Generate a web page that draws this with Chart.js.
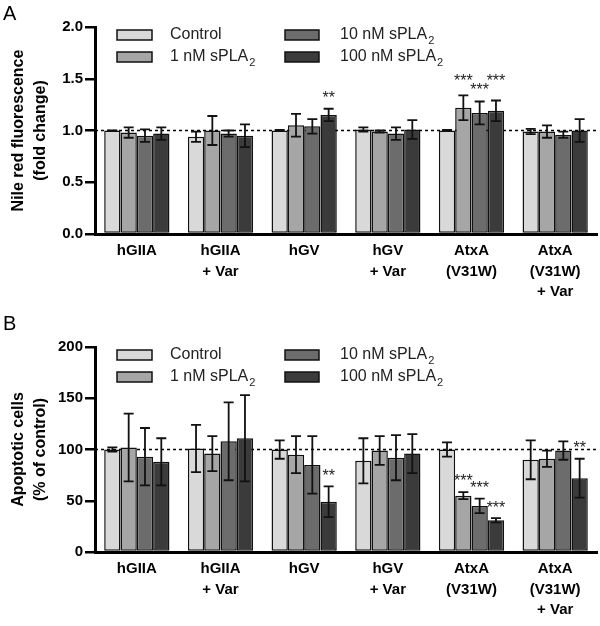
<!DOCTYPE html>
<html>
<head>
<meta charset="utf-8">
<script src="https://cdn.jsdelivr.net/npm/chart.js@4.4.1/dist/chart.umd.min.js"></script>
<style>
  html, body { margin: 0; padding: 0; background: #fff; }
  #wrap { position: relative; width: 600px; height: 626px; }
  .panel { position: absolute; left: 0; width: 600px; }
  #panelA { top: 0; height: 310px; }
  #panelB { top: 310px; height: 316px; }
</style>
</head>
<body>
<div id="wrap">
  <div class="panel" id="panelA"><canvas id="chartA"></canvas></div>
  <div class="panel" id="panelB"><canvas id="chartB"></canvas></div>
</div>
<script>
// categories and series
const groups = [['hGIIA'], ['hGIIA', '+ Var'], ['hGV'], ['hGV', '+ Var'], ['AtxA', '(V31W)'], ['AtxA', '(V31W)', '+ Var']];
const seriesNames = ['Control', '1 nM sPLA', '10 nM sPLA', '100 nM sPLA'];
const seriesSub = ['', '2', '2', '2'];
const seriesColors = ['#d9d9d9', '#a6a6a6', '#6c6c6c', '#3b3b3b'];

// panel A: Nile red fluorescence (fold change)
const nileControl = [1.00, 0.94, 1.00, 1.01, 1.00, 0.99];
const nile1nM = [0.98, 1.00, 1.05, 0.99, 1.22, 0.99];
const nile10nM = [0.95, 0.97, 1.04, 0.97, 1.17, 0.96];
const nile100nM = [0.97, 0.95, 1.15, 1.01, 1.19, 1.00];
const nileControlErr = [0.00, 0.05, 0.006, 0.02, 0.006, 0.025];
const nile1nMErr = [0.05, 0.14, 0.11, 0.01, 0.12, 0.06];
const nile10nMErr = [0.06, 0.03, 0.07, 0.06, 0.11, 0.03];
const nile100nMErr = [0.06, 0.11, 0.06, 0.09, 0.10, 0.11];
const nileSig = [
  ['', '', '', '', '', ''],
  ['', '', '', '', '***', ''],
  ['', '', '', '', '***', ''],
  ['', '', '**', '', '***', '']
];
const nileTicks = [0, 0.5, 1.0, 1.5, 2.0];

// panel B: apoptotic cells (% of control)
const apoControl = [100, 101, 100, 89, 100, 90];
const apo1nM = [102, 96, 95, 99, 55, 91];
const apo10nM = [93, 108, 85, 92, 45, 99];
const apo100nM = [88, 111, 49, 96, 31, 72];
const apoControlErr = [2, 23, 9, 22, 7, 19];
const apo1nMErr = [33, 17, 18, 14, 3.5, 8];
const apo10nMErr = [28, 38, 28, 22, 7, 9];
const apo100nMErr = [23, 42, 15, 19, 2, 19];
const apoSig = [
  ['', '', '', '', '', ''],
  ['', '', '', '', '***', ''],
  ['', '', '', '', '***', ''],
  ['', '', '**', '', '***', '**']
];
const apoTicks = [0, 50, 100, 150, 200];

const FONT = "'Liberation Sans', Arial, sans-serif";

const extras = {
  id: 'extras',
  beforeDatasetsDraw(chart, args, opts) {
    const { ctx, chartArea, scales: { y } } = chart;
    const py = y.getPixelForValue(opts.refValue);
    ctx.save();
    ctx.setLineDash([3, 3]);
    ctx.lineWidth = 1.5;
    ctx.strokeStyle = '#000';
    ctx.beginPath();
    ctx.moveTo(chartArea.left, py);
    ctx.lineTo(chartArea.right, py);
    ctx.stroke();
    ctx.restore();
  },
  afterDatasetsDraw(chart, args, opts) {
    const { ctx, scales: { y } } = chart;
    const labels = groups.map(() => []);
    ctx.save();
    ctx.strokeStyle = '#111';
    ctx.lineWidth = 1.8;
    chart.data.datasets.forEach((ds, i) => {
      const meta = chart.getDatasetMeta(i);
      meta.data.forEach((bar, j) => {
        const v = ds.data[j];
        const e = opts.errors[i][j];
        const top = y.getPixelForValue(v + e);
        const bot = y.getPixelForValue(v - e);
        ctx.beginPath();
        ctx.moveTo(bar.x, top); ctx.lineTo(bar.x, bot);
        ctx.moveTo(bar.x - 5, top); ctx.lineTo(bar.x + 5, top);
        ctx.moveTo(bar.x - 5, bot); ctx.lineTo(bar.x + 5, bot);
        ctx.stroke();
        if (opts.sig[i][j]) labels[j].push({ text: opts.sig[i][j], x: bar.x, y: top - 10 });
      });
    });
    // stagger labels that would collide inside a group
    labels.forEach(list => {
      let clash = false;
      for (let k = 1; k < list.length; k++) {
        if (Math.abs(list[k].y - list[k - 1].y) < 5) clash = true;
      }
      if (clash) {
        const level = Math.min(...list.map(l => l.y));
        list.forEach((l, k) => { l.y = k % 2 ? level + 5 : level - 4; });
      }
    });
    ctx.fillStyle = '#222';
    ctx.font = '16px ' + FONT;
    ctx.textAlign = 'center';
    ctx.textBaseline = 'middle';
    labels.flat().forEach(l => ctx.fillText(l.text, l.x, l.y));
    ctx.restore();
  },
  afterDraw(chart, args, opts) {
    const { ctx, chartArea } = chart;
    ctx.save();
    // panel letter
    ctx.fillStyle = '#000';
    ctx.font = '20px ' + FONT;
    ctx.textAlign = 'left';
    ctx.textBaseline = 'middle';
    ctx.fillText(opts.letter, 3, opts.letterY);
    // legend, two columns
    const cols = [{ box: 117, w: 35, text: 170 }, { box: 285, w: 34, text: 340 }];
    const rows = [chartArea.top + 8, chartArea.top + 30];
    seriesNames.forEach((name, i) => {
      const c = cols[Math.floor(i / 2)];
      const ry = rows[i % 2];
      ctx.fillStyle = seriesColors[i];
      ctx.fillRect(c.box, ry - 5, c.w, 10);
      ctx.strokeStyle = '#111';
      ctx.lineWidth = 1.5;
      ctx.strokeRect(c.box, ry - 5, c.w, 10);
      ctx.fillStyle = '#222';
      ctx.font = '16px ' + FONT;
      ctx.textBaseline = 'middle';
      ctx.fillText(name, c.text, ry);
      if (seriesSub[i]) {
        const w = ctx.measureText(name).width;
        ctx.font = '11px ' + FONT;
        ctx.fillText(seriesSub[i], c.text + w + 1, ry + 6);
      }
    });
    ctx.restore();
  }
};

function makeChart(id, values, errors, sig, ticks, yMax, title, letter, padTop, xHeight, fmt) {
  new Chart(document.getElementById(id), {
    type: 'bar',
    data: {
      labels: groups,
      datasets: values.map((d, i) => ({
        label: seriesNames[i],
        data: d,
        backgroundColor: seriesColors[i],
        borderColor: '#111',
        borderWidth: 1.5,
        borderSkipped: false,
        categoryPercentage: 0.78,
        barPercentage: 1.0
      }))
    },
    options: {
      responsive: true,
      maintainAspectRatio: false,
      animation: false,
      layout: { padding: { top: padTop, right: 3, left: 0, bottom: 0 } },
      plugins: {
        legend: { display: false },
        tooltip: { enabled: false },
        extras: { refValue: ticks[2], errors: errors, sig: sig, letter: letter, letterY: 14 }
      },
      scales: {
        x: {
          grid: { display: false, drawTicks: false },
          border: { display: true, width: 3, color: '#000' },
          ticks: {
            color: '#000',
            font: { family: FONT, size: 15, weight: 'bold', lineHeight: 1.35 },
            padding: 7,
            maxRotation: 0,
            autoSkip: false
          },
          afterFit: (scale) => { scale.height = xHeight; }
        },
        y: {
          min: 0,
          max: yMax,
          afterBuildTicks: (scale) => { scale.ticks = ticks.map(v => ({ value: v })); },
          grid: { display: true, drawOnChartArea: false, drawTicks: true, tickLength: 10, lineWidth: 2.5, color: '#000' },
          border: { display: true, width: 3, color: '#000' },
          ticks: {
            color: '#000',
            font: { family: FONT, size: 15, weight: 'bold' },
            padding: 2,
            callback: fmt
          },
          title: {
            display: true,
            text: title,
            color: '#000',
            font: { family: FONT, size: 16, weight: 'bold', lineHeight: 1.375 },
            padding: { top: 8, bottom: 0 }
          },
          afterFit: (scale) => { scale.width = 95; }
        }
      }
    },
    plugins: [extras]
  });
}

makeChart('chartA',
  [nileControl, nile1nM, nile10nM, nile100nM],
  [nileControlErr, nile1nMErr, nile10nMErr, nile100nMErr],
  nileSig, nileTicks, 2.0,
  ['Nile red fluorescence', '(fold change)'], 'A', 27, 76,
  (v) => Number(v).toFixed(1));

makeChart('chartB',
  [apoControl, apo1nM, apo10nM, apo100nM],
  [apoControlErr, apo1nMErr, apo10nMErr, apo100nMErr],
  apoSig, apoTicks, 200,
  ['Apoptotic cells', '(% of control)'], 'B', 37, 74,
  (v) => String(v));
</script>
</body>
</html>
